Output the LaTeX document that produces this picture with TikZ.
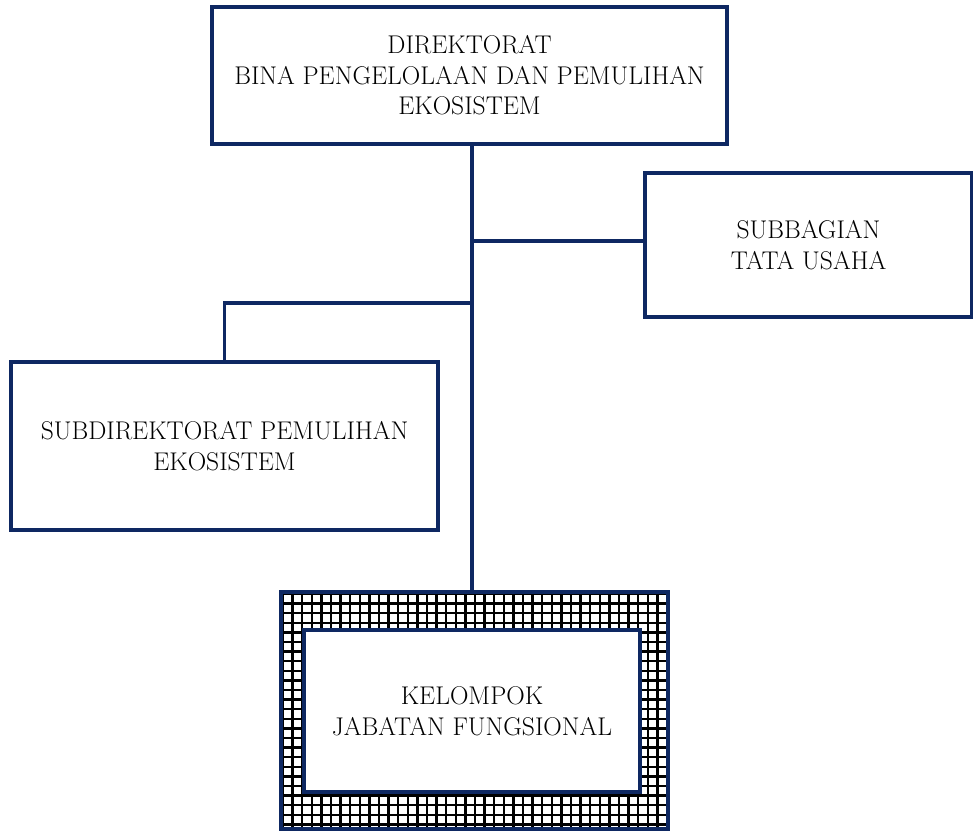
\documentclass[tikz,border=0pt]{standalone}
\usepackage{fontspec}
\definecolor{navy}{RGB}{14,40,98}
\begin{document}
\begin{tikzpicture}[x=0.75pt,y=-0.75pt,
  box/.style={draw=navy,line width=3pt,fill=white,rectangle,inner sep=0pt,align=center,
    font=\fontsize{19.2}{22.9}\selectfont},
  conn/.style={draw=navy,line width=2.6pt}]
\useasboundingbox (0,0) rectangle (973,832);
% grid pattern
\begin{scope}
  \clip (281,592) rectangle (668,829);
  \foreach \i in {0,...,41} {
    \draw[black,line width=1.7pt] (283+\i*9.6,592) -- (283+\i*9.6,832);
  }
  \foreach \j in {0,...,25} {
    \draw[black,line width=1.7pt] (281,594+\j*9.6) -- (668,594+\j*9.6);
  }
\end{scope}
\node[draw=navy,line width=3pt,rectangle,inner sep=0pt,minimum width=290.25pt,minimum height=177.75pt] (outer) at (474.5,710.5) {};
\node[box,minimum width=252pt,minimum height=121.5pt] (inner) at (472,711) {KELOMPOK\\JABATAN FUNGSIONAL};
\node[box,minimum width=386.25pt,minimum height=102.75pt] (top) at (469.5,75.5) {DIREKTORAT\\BINA PENGELOLAAN DAN PEMULIHAN\\EKOSISTEM};
\node[box,minimum width=245.25pt,minimum height=108pt] (right) at (808.5,245) {SUBBAGIAN\\TATA USAHA};
\node[box,minimum width=320.25pt,minimum height=126pt] (left) at (224.5,446) {SUBDIREKTORAT PEMULIHAN\\EKOSISTEM};
\coordinate (j1) at (472,241);
\coordinate (j2) at (472,303);
\draw[conn] (j1 |- top.south) -- (j1 |- outer.north);
\draw[conn] (j1) -- (j1 -| right.west);
\draw[conn] (j2) -| (left.north);
\end{tikzpicture}
\end{document}
